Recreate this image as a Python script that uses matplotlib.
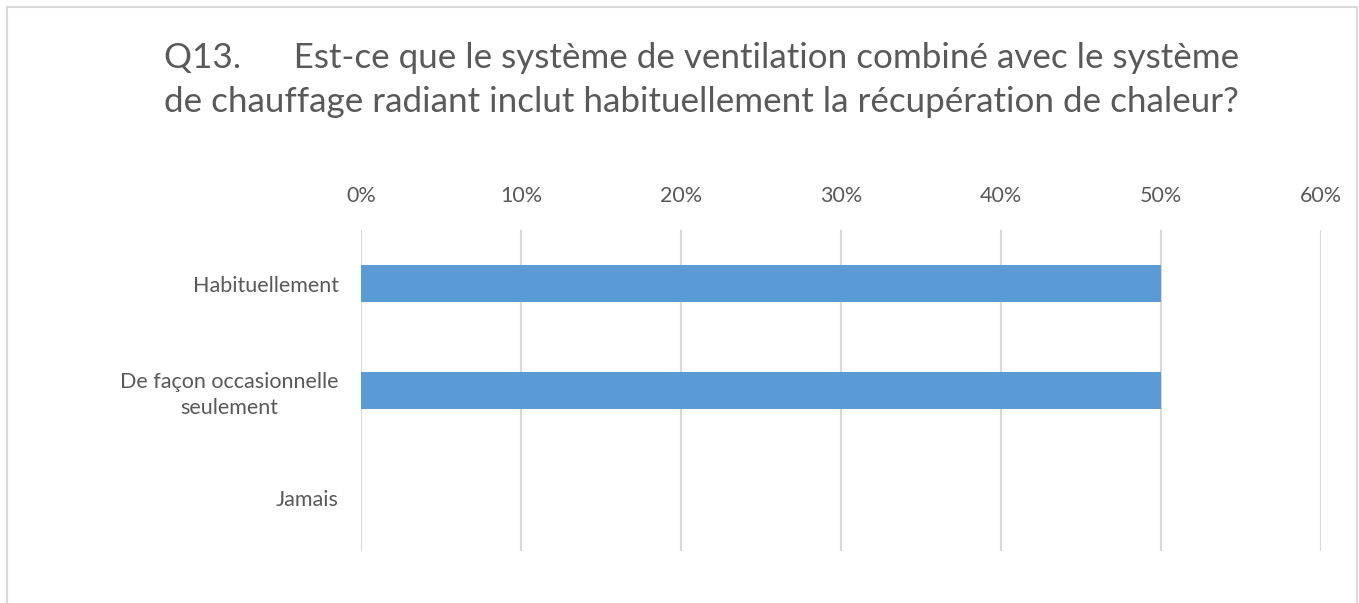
import matplotlib.pyplot as plt
import matplotlib.patches as mpatches
from matplotlib.ticker import FuncFormatter

# Données
categories = ['Habituellement', 'De façon occasionnelle\nseulement', 'Jamais']
valeurs = [0.50, 0.50, 0.0]
ticks_x = [0, 0.1, 0.2, 0.3, 0.4, 0.5, 0.6]
titre = ("Q13.\u2003\u2003Est-ce que le système de ventilation combiné avec le système\n"
         "de chauffage radiant inclut habituellement la récupération de chaleur?")

gris_texte = '#595959'
gris_grille = '#d9d9d9'
bleu = '#5b9bd5'

plt.rcParams['font.family'] = ['Lato', 'DejaVu Sans']

fig = plt.figure(figsize=(13.59, 6.03), dpi=100)
ax = fig.add_axes([361/1359, 1 - 551/603, 960/1359, 321/603])

pos = list(range(len(categories)))
ax.barh(pos, valeurs, height=0.35, color=bleu, zorder=3)
ax.set_ylim(2.5, -0.5)
ax.set_xlim(0, 0.6)

ax.set_xticks(ticks_x)
ax.xaxis.set_major_formatter(FuncFormatter(lambda v, p: f"{v*100:.0f}%"))
ax.xaxis.tick_top()
ax.tick_params(axis='x', length=0, pad=17, labelsize=15.5, labelcolor=gris_texte)
ax.set_yticks(pos)
ax.set_yticklabels(categories, multialignment='center', linespacing=1.35)
ax.tick_params(axis='y', length=0, pad=16, labelsize=15.5, labelcolor=gris_texte)

ax.grid(axis='x', color=gris_grille, linewidth=1.5, zorder=0)
for s in ax.spines.values():
    s.set_visible(False)

fig.text(0.516, 1 - 80/603, titre, ha='center', va='center', fontsize=25.2,
         color=gris_texte, linespacing=1.45)

# Cadre du graphique
cadre = mpatches.Rectangle((7/1359, -0.1), 1350/1359, 1.1 - 7/603,
                           transform=fig.transFigure, fill=False,
                           edgecolor=gris_grille, linewidth=1.5)
fig.patches.append(cadre)

plt.savefig('out.png', dpi=100)
